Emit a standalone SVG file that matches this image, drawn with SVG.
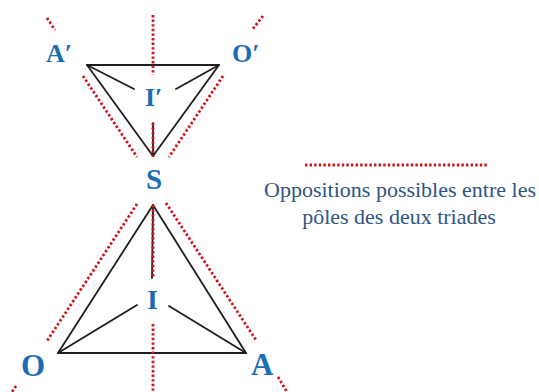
<svg xmlns="http://www.w3.org/2000/svg" width="539" height="392" viewBox="0 0 539 392">
<style>
.edge{stroke:#1e1e1e;stroke-width:1.8;fill:none;stroke-linecap:round;stroke-linejoin:round}
.dot{stroke:#d0121b;stroke-width:2.8;stroke-dasharray:2.4 2.2;fill:none}
.lbl{font-weight:bold;fill:#1b6cb6}
.cap{font-size:22px;fill:#2f5583;text-anchor:middle}
</style>
<rect width="539" height="392" fill="#fff"/>
<g id="connectors">
  <path class="edge" d="M87 65 L219 65 L153 156 Z"/>
  <path class="edge" d="M87 65 L134 89 M219 65 L176 89 M153 156 L153 123"/>
  <path class="edge" d="M153 205 L58 353 L246 353 Z"/>
  <path class="edge" d="M58 353 L137 305 M246 353 L169 306 M153 205 L152 278"/>
  <path class="dot" d="M153 15 L153 75"/>
  <path class="dot" d="M153 123 L153 157"/>
  <path class="dot" d="M47 18 L55 30"/>
  <path class="dot" d="M263 16 L252 30"/>
  <path class="dot" d="M83 76 L137 157"/>
  <path class="dot" d="M223 76 L169 157"/>
  <path class="dot" d="M137 204 L47 341"/>
  <path class="dot" d="M166 203 L256 340"/>
  <path class="dot" d="M153 205 L153 278"/>
  <path class="dot" d="M153 324 L153 392"/>
  <path class="dot" d="M16 386 L12 392"/>
  <path class="dot" d="M278 377 L287 392"/>
</g>
<g font-family="'Liberation Serif', 'DejaVu Serif', serif">
<g id="node-A-prime"><text class="lbl" x="46" y="62" font-size="26">A′</text></g>
<g id="node-O-prime"><text class="lbl" x="232" y="62" font-size="26">O′</text></g>
<g id="node-I-prime"><text class="lbl" x="145" y="106" font-size="26">I′</text></g>
<g id="node-S"><text class="lbl" x="146" y="189" font-size="29">S</text></g>
<g id="node-I"><text class="lbl" x="147" y="309" font-size="28">I</text></g>
<g id="node-O"><text class="lbl" x="21" y="376" font-size="31">O</text></g>
<g id="node-A"><text class="lbl" x="251" y="375" font-size="31">A</text></g>
<g id="legend">
  <path class="dot" d="M305 165 L487 165"/>
  <text class="cap" x="400" y="197">Oppositions possibles entre les</text>
  <text class="cap" x="399" y="224">pôles des deux triades</text>
</g>
</g>
</svg>
